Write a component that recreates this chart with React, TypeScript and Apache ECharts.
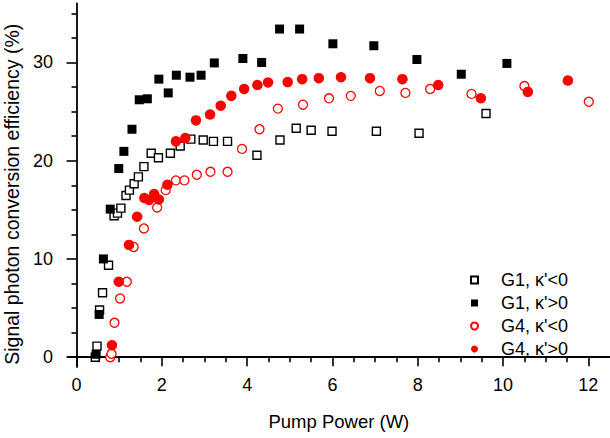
import React, { useEffect, useRef } from 'react';
import * as echarts from 'echarts';

// Axis tick values
const xTicks = [0, 2, 4, 6, 8, 10, 12];
const yTicks = [0, 10, 20, 30];

// Pump power (W) vs signal photon conversion efficiency (%)
const g1Neg: [number, number][] = [
  [0.44, 0.0], [0.48, 1.12], [0.54, 4.8], [0.61, 6.56], [0.75, 9.35],
  [0.88, 14.4], [0.96, 14.66], [1.04, 15.17], [1.16, 16.45], [1.24, 17.0],
  [1.35, 17.65], [1.45, 18.35], [1.58, 19.4], [1.75, 20.75], [1.92, 20.3],
  [2.2, 20.75], [2.43, 21.5], [2.68, 22.2], [2.97, 22.1], [3.21, 21.97],
  [3.54, 21.97], [4.23, 20.55], [4.77, 22.1], [5.15, 23.3], [5.5, 23.1],
  [5.99, 23.0], [7.03, 23.0], [8.03, 22.8], [9.6, 24.8],
];

const g1Pos: [number, number][] = [
  [0.46, 0.3], [0.53, 4.35], [0.63, 10.0], [0.79, 15.07], [0.99, 19.2],
  [1.11, 20.95], [1.3, 23.2], [1.47, 26.2], [1.66, 26.3], [1.93, 28.3],
  [2.15, 26.9], [2.34, 28.7], [2.66, 28.5], [2.92, 28.7], [3.23, 29.95],
  [3.9, 30.4], [4.34, 30.0], [4.76, 33.4], [5.23, 33.4], [6.01, 31.9],
  [6.97, 31.7], [7.98, 30.3], [9.02, 28.8], [10.09, 29.9],
];

const g4Neg: [number, number][] = [
  [0.79, 0.0], [0.82, 0.35], [0.89, 3.5], [1.02, 5.98], [1.18, 7.68],
  [1.34, 11.22], [1.58, 13.1], [1.89, 15.24], [2.09, 17.0], [2.33, 18.0],
  [2.53, 18.0], [2.82, 18.57], [3.14, 18.87], [3.54, 18.87], [3.88, 21.2],
  [4.29, 23.2], [4.72, 25.3], [5.31, 25.7], [5.92, 26.35], [6.43, 26.6],
  [7.11, 27.1], [7.71, 26.9], [8.29, 27.3], [9.26, 26.8], [10.5, 27.6],
  [12.01, 26.0],
];

const g4Pos: [number, number][] = [
  [0.83, 1.22], [0.99, 7.68], [1.23, 11.43], [1.42, 14.3], [1.59, 16.2],
  [1.7, 16.0], [1.82, 16.6], [1.93, 16.05], [2.13, 17.55], [2.33, 21.97],
  [2.55, 22.3], [2.8, 24.1], [3.13, 24.7], [3.38, 25.6], [3.63, 26.6],
  [3.93, 27.3], [4.24, 27.7], [4.49, 27.96], [4.95, 28.0], [5.29, 28.3],
  [5.68, 28.4], [6.2, 28.5], [6.88, 28.4], [7.64, 28.3], [8.48, 27.7],
  [9.48, 26.35], [10.58, 27.0], [11.52, 28.16],
];

const seriesNames = ["G1, κ'<0", "G1, κ'>0", "G4, κ'<0", "G4, κ'>0"];

const FONT = 'Arial, "Liberation Sans", sans-serif';

export default function App() {
  const ref = useRef<HTMLDivElement>(null);

  useEffect(() => {
    if (!ref.current) return;
    const chart = echarts.init(ref.current, undefined, { renderer: 'svg' });

    const axisLine = { show: true, lineStyle: { color: '#000', width: 1.8 } };
    const tickLine = { color: '#000', width: 1.6 };

    chart.setOption({
      animation: false,
      backgroundColor: '#fff',
      textStyle: { fontFamily: FONT },
      grid: {
        left: 68,
        top: 3.5,
        width: 541.7,
        height: 363.5,
        containLabel: false,
        outerBoundsMode: 'none',
      },
      xAxis: {
        type: 'value',
        min: -0.2,
        max: 12.5,
        minInterval: 2,
        maxInterval: 2,
        name: 'Pump Power (W)',
        nameLocation: 'middle',
        nameGap: 45,
        nameTextStyle: { fontSize: 18.5, color: '#000', fontFamily: FONT },
        axisLine,
        axisTick: { show: true, customValues: xTicks, length: 9, lineStyle: tickLine },
        minorTick: { show: true, splitNumber: 4, length: 5, lineStyle: tickLine },
        axisLabel: { customValues: xTicks, margin: 9, fontSize: 18, color: '#000', fontFamily: FONT },
        splitLine: { show: false },
      },
      yAxis: {
        type: 'value',
        min: -1,
        max: 36,
        minInterval: 10,
        maxInterval: 10,
        name: 'Signal photon conversion efficiency (%)',
        nameLocation: 'middle',
        nameGap: 36,
        nameTextStyle: {
          fontSize: 19.5,
          color: '#000',
          fontFamily: FONT,
          padding: [0, 18, 0, 0],
        },
        axisLine,
        axisTick: { show: true, customValues: yTicks, length: 10, lineStyle: tickLine },
        minorTick: { show: true, splitNumber: 4, length: 5, lineStyle: tickLine },
        axisLabel: { customValues: yTicks, margin: 15, fontSize: 18, color: '#000', fontFamily: FONT },
        splitLine: { show: false },
      },
      legend: {
        orient: 'vertical',
        left: 465,
        top: 266,
        itemWidth: 7,
        itemHeight: 7,
        itemGap: 5,
        selectedMode: false,
        textStyle: { fontSize: 18, color: '#000', fontFamily: FONT, padding: [0, 0, 0, 18] },
        data: seriesNames,
      },
      series: [
        {
          name: seriesNames[0],
          type: 'scatter',
          data: g1Neg,
          symbol: 'rect',
          symbolSize: 8,
          silent: true,
          itemStyle: { color: '#fff', borderColor: '#000', borderWidth: 1.4, opacity: 1 },
        },
        {
          name: seriesNames[1],
          type: 'scatter',
          data: g1Pos,
          symbol: 'rect',
          symbolSize: 9,
          silent: true,
          itemStyle: { color: '#000', opacity: 1 },
        },
        {
          name: seriesNames[2],
          type: 'scatter',
          data: g4Neg,
          symbol: 'circle',
          symbolSize: 9,
          silent: true,
          itemStyle: { color: '#fff', borderColor: '#ff0000', borderWidth: 1.3, opacity: 1 },
        },
        {
          name: seriesNames[3],
          type: 'scatter',
          data: g4Pos,
          symbol: 'circle',
          symbolSize: 10.5,
          silent: true,
          itemStyle: { color: '#ff0000', opacity: 1 },
        },
      ],
    });

    return () => chart.dispose();
  }, []);

  return (
    <div
      ref={ref}
      style={{ position: 'fixed', left: 0, top: 0, width: 610, height: 438, background: '#fff' }}
    />
  );
}
